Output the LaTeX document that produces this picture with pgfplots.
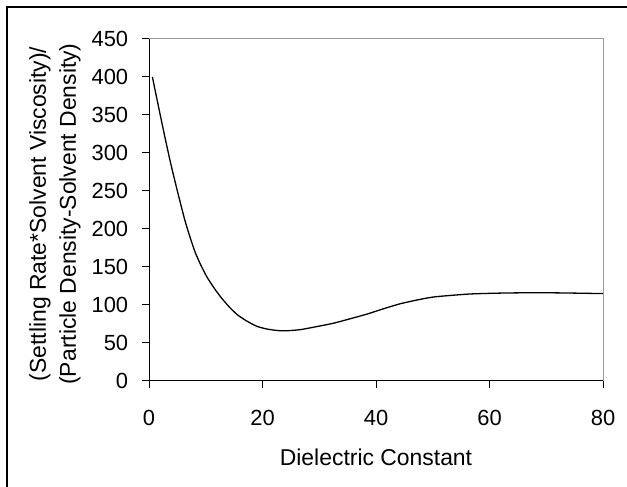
\documentclass[border=0pt]{standalone}
\usepackage{pgfplots}
\pgfplotsset{compat=1.18}
\usepackage{fontspec}
\setmainfont{Liberation Sans}

\begin{document}
\fontsize{23}{30}\selectfont
\begin{tikzpicture}[x=1bp, y=1bp]
\useasboundingbox (0,0) rectangle (627,487);
\draw[line width=1.3bp] (7,0) -- (7,480) -- (627,480);

\begin{axis}[
    at={(149bp,106bp)}, anchor=origin,
    scale only axis, width=454bp, height=342bp,
    xmin=0, xmax=80, ymin=0, ymax=450,
    xtick={0,20,...,80}, ytick={0,50,...,450},
    axis x line*=bottom, axis y line*=left,
    axis line style={-, line width=1bp, black},
    tick align=outside, major tick length=7bp,
    tick style={line width=1bp, black},
    tick label style={font=\fontsize{22}{26}\selectfont},
    /pgf/number format/assume math mode=true,
    xticklabel style={yshift=-14bp},
    yticklabel style={xshift=-6bp},
    clip=false,
]
\addplot[black, line width=1.3bp, smooth, tension=0.4] coordinates {
    (0.6,400) (1.7,360) (2.8,321) (3.8,287) (4.9,253) (6.3,212) (7.2,190)
    (8.1,170) (9.1,153) (10.2,137) (11.5,122) (12.8,109) (14.2,97)
    (15.6,87) (17.2,79) (19,72) (20.7,68.5) (22.5,66.5) (24,66) (26.6,67.5)
    (29.5,71.5) (32.5,76) (35.5,82) (38.4,88) (41.3,95) (44.2,101.5)
    (47.5,107) (50.1,110.5) (53,112.5) (56.6,114.5) (61,115.5) (65.4,116)
    (71.2,116) (76,115.5) (80,115)
};
\draw[black!40, line width=1bp] (rel axis cs:0,1) -- (rel axis cs:1,1) -- (rel axis cs:1,0);
\end{axis}

\node at (376,30) {Dielectric Constant};
\node[rotate=90, align=center] at (55,273) {(Settling Rate*Solvent Viscosity)/\\(Particle Density-Solvent Density)};
\end{tikzpicture}
\end{document}
